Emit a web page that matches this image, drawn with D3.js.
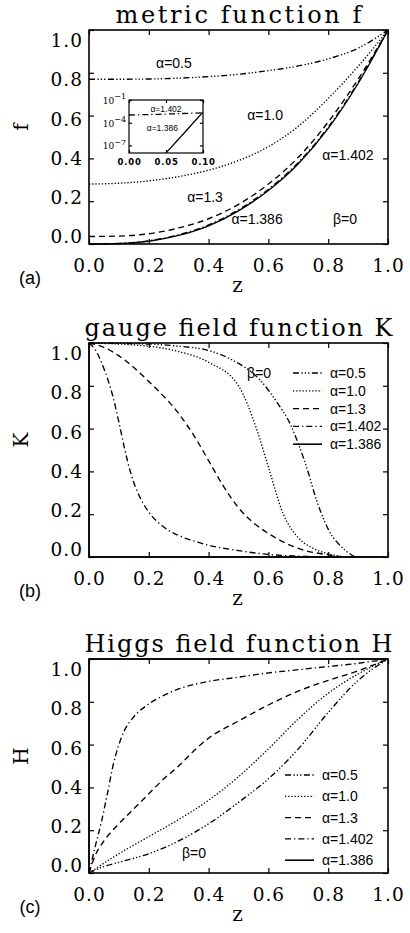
<!DOCTYPE html>
<html><head><meta charset="utf-8">
<script src="https://cdn.jsdelivr.net/npm/d3@7"></script>
<style>body{margin:0;background:#fff}svg{display:block}</style>
</head><body>
<script>
// ---------- labels ----------
const X_TICKS = [0, 0.2, 0.4, 0.6, 0.8, 1.0];
const Y_TICKS = [0, 0.2, 0.4, 0.6, 0.8, 1.0];
const ALPHAS = ["α=0.5", "α=1.0", "α=1.3", "α=1.402", "α=1.386"];
const TITLES = ["metric function f", "gauge field function K", "Higgs field function H"];
const Y_NAMES = ["f", "K", "H"];
const PANEL_TAGS = ["(a)", "(b)", "(c)"];
const BETA = "β=0";

// ---------- panel (a): metric function f ----------
const fZ     = [0, 0.1, 0.2, 0.3, 0.4, 0.5, 0.6, 0.7, 0.8, 0.9, 1.0];
const f_05   = [0.77, 0.77, 0.771, 0.775, 0.782, 0.793, 0.81, 0.832, 0.865, 0.915, 1.0];
const f_10   = [0.28, 0.284, 0.295, 0.315, 0.345, 0.39, 0.455, 0.55, 0.68, 0.83, 1.0];
const f_13   = [0.035, 0.037, 0.048, 0.075, 0.118, 0.185, 0.28, 0.405, 0.57, 0.77, 1.0];
const f_1402 = [0.0, 0.003, 0.015, 0.043, 0.089, 0.16, 0.256, 0.381, 0.546, 0.755, 1.0];
const f_1386 = [0.0, 0.002, 0.013, 0.04, 0.085, 0.155, 0.25, 0.375, 0.54, 0.75, 1.0];
// inset (log scale)
const insZ_1402 = [0, 0.02, 0.04, 0.06, 0.08, 0.1];
const ins_1402  = [1.05e-3, 1.15e-3, 1.3e-3, 1.5e-3, 1.75e-3, 2.0e-3];
const insZ_1386 = [0.05, 0.06, 0.07, 0.08, 0.09, 0.1];
const ins_1386  = [1e-8, 1.2e-7, 1.45e-6, 1.7e-5, 2.1e-4, 2.5e-3];
const INSET_X_TICKS = [0, 0.05, 0.1];
const INSET_Y_TICKS = [1e-7, 1e-4, 1e-1];

// ---------- panel (b): gauge field function K ----------
const kZ_05 = [0, 0.2, 0.3, 0.4, 0.48, 0.57, 0.63, 0.67, 0.7, 0.73, 0.76, 0.8, 0.85, 0.89];
const k_05  = [1, 0.995, 0.985, 0.965, 0.92, 0.83, 0.72, 0.63, 0.53, 0.41, 0.27, 0.13, 0.04, 0];
const kZ_10 = [0, 0.2, 0.3, 0.4, 0.5, 0.56, 0.6, 0.65, 0.7, 0.75, 0.8, 0.86];
const k_10  = [1, 0.985, 0.96, 0.91, 0.8, 0.6, 0.42, 0.2, 0.09, 0.04, 0.015, 0];
const kZ_13 = [0, 0.05, 0.1, 0.2, 0.3, 0.35, 0.4, 0.45, 0.5, 0.55, 0.6, 0.7, 0.8, 0.85];
const k_13  = [1, 0.98, 0.94, 0.82, 0.67, 0.57, 0.45, 0.33, 0.23, 0.16, 0.11, 0.04, 0.01, 0];
const kZ_1402 = [0, 0.02, 0.05, 0.08, 0.1, 0.12, 0.14, 0.17, 0.2, 0.25, 0.3, 0.35, 0.4, 0.5, 0.6, 0.7, 0.8];
const k_1402  = [1, 0.97, 0.88, 0.75, 0.63, 0.5, 0.39, 0.28, 0.21, 0.14, 0.1, 0.075, 0.055, 0.03, 0.012, 0.004, 0];
const kZ_1386 = [0, 0, 1];
const k_1386  = [1, 0, 0];

// ---------- panel (c): Higgs field function H ----------
const hZ_05 = [0, 0.05, 0.1, 0.2, 0.3, 0.4, 0.5, 0.6, 0.7, 0.8, 0.9, 1.0];
const h_05  = [0, 0.03, 0.05, 0.09, 0.15, 0.23, 0.33, 0.44, 0.58, 0.75, 0.9, 1.0];
const hZ_10 = [0, 0.1, 0.2, 0.3, 0.4, 0.5, 0.6, 0.7, 0.8, 0.9, 1.0];
const h_10  = [0, 0.09, 0.17, 0.25, 0.34, 0.45, 0.58, 0.72, 0.84, 0.93, 1.0];
const hZ_13 = [0, 0.02, 0.05, 0.1, 0.15, 0.2, 0.25, 0.3, 0.35, 0.4, 0.5, 0.6, 0.7, 0.8, 0.9, 1.0];
const h_13  = [0, 0.08, 0.15, 0.23, 0.3, 0.37, 0.44, 0.5, 0.57, 0.63, 0.71, 0.785, 0.85, 0.9, 0.945, 1.0];
const hZ_1402 = [0, 0.02, 0.04, 0.06, 0.08, 0.1, 0.12, 0.15, 0.2, 0.25, 0.3, 0.4, 0.5, 0.6, 0.7, 0.8, 0.9, 1.0];
const h_1402  = [0, 0.12, 0.23, 0.36, 0.5, 0.6, 0.67, 0.73, 0.79, 0.83, 0.86, 0.895, 0.915, 0.935, 0.95, 0.965, 0.98, 1.0];
const hZ_1386 = [0, 0, 1];
const h_1386  = [0, 1, 1];

// ---------- styles / layout ----------
const DASHES = ["6,2.5,1.3,2,1.3,2,1.3,2.5", "1.3,1.9", "6,4", "6,3,1.3,3", null];
const W = 410, HGT = 933;
const PL = 89, PR = 388, PH = 214;
const P_TOP = [30, 343, 659];
const SERIF = "'DejaVu Serif', serif";
const SANS = "'Liberation Sans', Arial, sans-serif";

const svg = d3.select("body").append("svg").attr("width", W).attr("height", HGT)
  .style("background", "#fff");

function curve(g, x, y, zs, vs, k, clipId, width) {
  g.append("path")
    .datum(d3.zip(zs, vs))
    .attr("clip-path", clipId ? `url(#${clipId})` : null)
    .attr("fill", "none").attr("stroke", "#000")
    .attr("stroke-width", width || 1.35)
    .attr("stroke-dasharray", DASHES[k])
    .attr("d", d3.line().x(d => x(d[0])).y(d => y(d[1]))
      .curve(zs.length <= 3 ? d3.curveLinear : d3.curveMonotoneX));
}

function tickAxis(g, axis, tx, ty) {
  const a = g.append("g").attr("transform", `translate(${tx},${ty})`).call(axis);
  a.select(".domain").remove();
  a.selectAll("line").attr("stroke", "#000").attr("stroke-width", 1.2);
  return a;
}

function panel(i, series) {
  const top = P_TOP[i], bot = top + PH;
  const x = d3.scaleLinear([0, 1], [PL, PR]);
  const y = d3.scaleLinear([0, 1], [bot, top]);
  const yl = d3.scaleLinear([0, 1], [bot - 7, top + 10.5]);
  const g = svg.append("g");
  const cid = "clip" + i;
  svg.append("clipPath").attr("id", cid).append("rect")
    .attr("x", PL - 1).attr("y", top - 1).attr("width", PR - PL + 2).attr("height", PH + 2);

  series.forEach(s => curve(g, x, y, s[0], s[1], s[2], cid));

  tickAxis(g, d3.axisBottom(x).tickValues(X_TICKS).tickSizeInner(-5).tickSizeOuter(0).tickFormat(() => ""), 0, bot);
  tickAxis(g, d3.axisTop(x).tickValues(X_TICKS).tickSizeInner(-5).tickSizeOuter(0).tickFormat(() => ""), 0, top);
  tickAxis(g, d3.axisLeft(y).tickValues(Y_TICKS).tickSizeInner(-5).tickSizeOuter(0).tickFormat(() => ""), PL, 0);
  tickAxis(g, d3.axisRight(y).tickValues(Y_TICKS).tickSizeInner(-5).tickSizeOuter(0).tickFormat(() => ""), PR, 0);

  const xa = tickAxis(g, d3.axisBottom(x).tickValues(X_TICKS).tickSize(0).tickPadding(15).tickFormat(d3.format(".1f")), 0, bot);
  xa.attr("font-family", null).attr("font-size", null);
  xa.selectAll("text").attr("font-family", SERIF).attr("font-size", 18.5).attr("fill", "#000").attr("letter-spacing", 1);
  const ya = tickAxis(g, d3.axisLeft(yl).tickValues(Y_TICKS).tickSize(0).tickPadding(6).tickFormat(d3.format(".1f")), PL, 0);
  ya.attr("font-family", null).attr("font-size", null);
  ya.selectAll("text").attr("font-family", SERIF).attr("font-size", 18.5).attr("fill", "#000").attr("letter-spacing", 1);

  g.append("rect").attr("x", PL).attr("y", top).attr("width", PR - PL).attr("height", PH)
    .attr("fill", "none").attr("stroke", "#000").attr("stroke-width", 1.6);

  g.append("text").attr("x", (PL + PR) / 2).attr("y", top - 7).attr("text-anchor", "middle")
    .attr("font-family", SERIF).attr("font-size", 24)
    .attr("textLength", i === 0 ? 246 : 308).attr("lengthAdjust", "spacing")
    .text(TITLES[i]);
  g.append("text").attr("x", (PL + PR) / 2 - 1).attr("y", bot + 48).attr("text-anchor", "middle")
    .attr("font-family", SERIF).attr("font-size", 20).text("z");
  g.append("text").attr("transform", `translate(28,${top + PH / 2 - 10}) rotate(-90)`)
    .attr("text-anchor", "middle").attr("font-family", SERIF).attr("font-size", 20).text(Y_NAMES[i]);
  g.append("text").attr("x", 30).attr("y", bot + 40).attr("text-anchor", "middle")
    .attr("font-family", SANS).attr("font-size", 18).text(PANEL_TAGS[i]);
  return { g, x, y };
}

function note(g, x, y, zv, txt, size) {
  g.append("text").attr("x", x(zv[0])).attr("y", y(zv[1])).attr("dy", "0.36em")
    .attr("text-anchor", "middle").attr("font-family", SANS).attr("font-size", size || 14)
    .text(txt);
}

function legend(g, x0, y0, dy) {
  ALPHAS.forEach((t, k) => {
    const yy = y0 + k * dy;
    g.append("line").attr("x1", x0).attr("x2", x0 + 29).attr("y1", yy).attr("y2", yy)
      .attr("stroke", "#000").attr("stroke-width", k === 4 ? 1.6 : 1.35).attr("stroke-dasharray", DASHES[k]);
    g.append("text").attr("x", x0 + 37).attr("y", yy).attr("dy", "0.36em")
      .attr("font-family", SANS).attr("font-size", 14).text(t);
  });
}

// ---- panel a ----
const A = panel(0, [[fZ, f_05, 0], [fZ, f_10, 1], [fZ, f_13, 2], [fZ, f_1402, 3], [fZ, f_1386, 4]]);
note(A.g, A.x, A.y, [0.284, 0.846], ALPHAS[0]);
note(A.g, A.x, A.y, [0.589, 0.603], ALPHAS[1]);
note(A.g, A.x, A.y, [0.866, 0.416], ALPHAS[3]);
note(A.g, A.x, A.y, [0.388, 0.22], ALPHAS[2]);
note(A.g, A.x, A.y, [0.562, 0.118], ALPHAS[4]);
note(A.g, A.x, A.y, [0.856, 0.118], BETA);

// inset
{
  const xi = d3.scaleLinear([0, 0.1], [129, 203]);
  const yi = d3.scaleLog([1e-8, 1e-1], [153, 100]);
  const gi = svg.append("g");
  svg.append("clipPath").attr("id", "clipIns").append("rect")
    .attr("x", 129).attr("y", 100).attr("width", 74).attr("height", 53);
  gi.append("rect").attr("x", 129).attr("y", 100).attr("width", 74).attr("height", 53)
    .attr("fill", "#fff").attr("stroke", "none");
  curve(gi, xi, yi, insZ_1402, ins_1402, 3, "clipIns", 1.3);
  curve(gi, xi, yi, insZ_1386, ins_1386, 4, "clipIns", 1.3);
  tickAxis(gi, d3.axisBottom(xi).tickValues(INSET_X_TICKS).tickSizeInner(-3).tickSizeOuter(0).tickFormat(() => ""), 0, 153);
  tickAxis(gi, d3.axisTop(xi).tickValues(INSET_X_TICKS).tickSizeInner(-3).tickSizeOuter(0).tickFormat(() => ""), 0, 100);
  tickAxis(gi, d3.axisLeft(yi).tickValues(INSET_Y_TICKS).tickSizeInner(-3).tickSizeOuter(0).tickFormat(() => ""), 129, 0);
  tickAxis(gi, d3.axisRight(yi).tickValues(INSET_Y_TICKS).tickSizeInner(-3).tickSizeOuter(0).tickFormat(() => ""), 203, 0);
  const xa = tickAxis(gi, d3.axisBottom(xi).tickValues(INSET_X_TICKS).tickSize(0).tickPadding(6).tickFormat(d3.format(".2f")), 0, 153);
  xa.attr("font-family", null).attr("font-size", null);
  xa.selectAll("text").attr("font-family", "'DejaVu Sans', sans-serif").attr("font-weight", "bold")
    .attr("font-size", 8.5).attr("letter-spacing", 0.8).attr("fill", "#000");
  INSET_Y_TICKS.forEach(v => {
    const t = gi.append("text").attr("x", 126).attr("y", yi(v)).attr("dy", "0.45em")
      .attr("text-anchor", "end").attr("font-family", SERIF).attr("font-size", 9);
    t.append("tspan").text("10");
    t.append("tspan").attr("dy", "-0.6em").attr("font-size", 8).text("−" + Math.round(-Math.log10(v)));
  });
  gi.append("rect").attr("x", 129).attr("y", 100).attr("width", 74).attr("height", 53)
    .attr("fill", "none").attr("stroke", "#000").attr("stroke-width", 1.2);
  note(gi, xi, yi, [0.05, Math.pow(10, -2.2)], ALPHAS[3], 8.5);
  note(gi, xi, yi, [0.045, Math.pow(10, -4.7)], ALPHAS[4], 8.5);
}

// ---- panel b ----
const B = panel(1, [[kZ_05, k_05, 0], [kZ_10, k_10, 1], [kZ_13, k_13, 2], [kZ_1402, k_1402, 3], [kZ_1386, k_1386, 4]]);
note(B.g, B.x, B.y, [0.569, 0.86], BETA);
legend(B.g, 293, 373, 17.8);

// ---- panel c ----
const C = panel(2, [[hZ_05, h_05, 0], [hZ_10, h_10, 1], [hZ_13, h_13, 2], [hZ_1402, h_1402, 3], [hZ_1386, h_1386, 4]]);
note(C.g, C.x, C.y, [0.351, 0.093], BETA);
legend(C.g, 285, 775, 21.3);
</script>
</body></html>
